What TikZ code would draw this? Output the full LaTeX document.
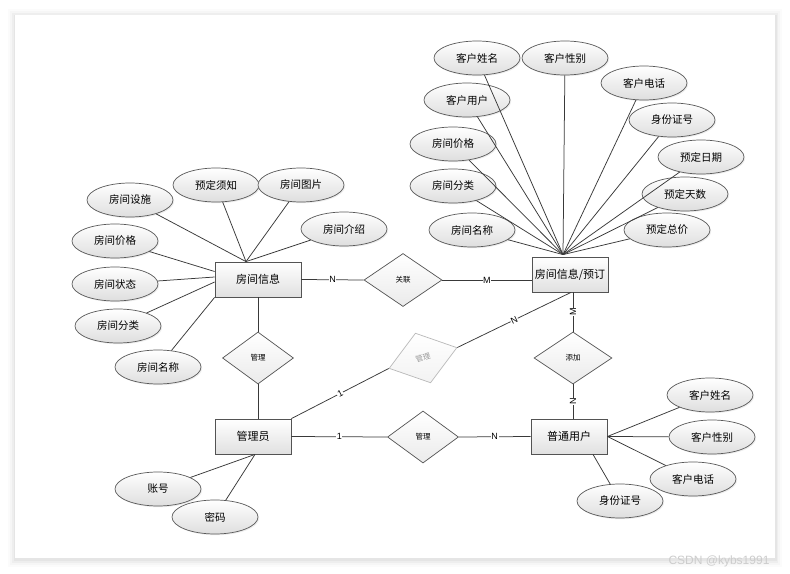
\documentclass[tikz,border=0pt]{standalone}
\usepackage{fontspec}
\newfontfamily\cjk{Noto Sans CJK SC}
\newfontfamily\lat{Liberation Sans}
\usetikzlibrary{shapes.geometric,shadows}
\tikzset{
 attr/.style={ellipse, draw=gray!70!black, line width=0.7bp, top color=white, bottom color=gray!26,
   minimum width=86bp, minimum height=34bp, inner sep=0pt, font=\cjk\fontsize{10.5bp}{12bp}\selectfont,
   drop shadow={opacity=0.14,shadow xshift=1.2bp,shadow yshift=-1.2bp}},
 ent/.style={rectangle, draw=gray!65!black, line width=0.8bp, top color=white, bottom color=gray!24,
   minimum width=76bp, minimum height=35bp, inner sep=0pt, font=\cjk\fontsize{11bp}{13bp}\selectfont,
   drop shadow={opacity=0.14,shadow xshift=1.2bp,shadow yshift=-1.2bp}},
 rel/.style={diamond, draw=gray!65!black, line width=0.7bp, top color=white, bottom color=gray!16,
   minimum width=71bp, minimum height=52bp, inner sep=0pt, font=\cjk\fontsize{7.5bp}{9bp}\selectfont},
 faded/.style={rel, draw=gray!55, text=gray!80, top color=white, bottom color=gray!10},
 conn/.style={draw=gray!45!black, line width=0.75bp},
 card/.style={fill=white, inner sep=0.6bp, font=\lat\fontsize{9bp}{10bp}\selectfont},
}
\begin{document}
\begin{tikzpicture}[x=1bp,y=-1bp]
\useasboundingbox (0,0) rectangle (790,574);
% page with soft shadow
\foreach \i/\o in {7/0.015,5/0.02,3/0.03,1.5/0.04}
  \fill[black,opacity=\o] (15-\i,15-\i+1.5) rectangle (775+\i,558+\i+1.5);
\fill[white] (15,15) rectangle (775,558);

% entities and relations
\node[ent, minimum width=86bp] (e) at (258,279.5) {房间信息};
\node[rel, minimum width=78bp, minimum height=53bp] (g) at (403,280) {关联};
\node[ent] (r) at (570,274.5) {房间信息/预订};
\node[rel] (d1) at (258,358) {管理};
\node[ent] (m) at (253,436.5) {管理员};
\node[faded, rotate=17] (fd) at (423,358) {管理};
\node[rel] (d3) at (423,437) {管理};
\node[ent] (u) at (569,436.5) {普通用户};
\node[rel, minimum width=78bp] (d2) at (573,358) {添加};

% attributes of 房间信息
\node[attr] (a1) at (130,200) {房间设施};
\node[attr] (a2) at (216,185) {预定须知};
\node[attr] (a3) at (301,185) {房间图片};
\node[attr] (a4) at (344,229) {房间介绍};
\node[attr] (a5) at (115,241) {房间价格};
\node[attr] (a6) at (115,284) {房间状态};
\node[attr] (a7) at (118,326) {房间分类};
\node[attr] (a8) at (158,367) {房间名称};

% attributes of 房间信息/预订
\node[attr] (b1) at (477,58) {客户姓名};
\node[attr] (b2) at (565,58) {客户性别};
\node[attr] (b3) at (644,83) {客户电话};
\node[attr] (b4) at (672,120) {身份证号};
\node[attr] (b5) at (701,157) {预定日期};
\node[attr] (b6) at (685,194) {预定天数};
\node[attr] (b7) at (667,230) {预定总价};
\node[attr] (b8) at (467,100) {客户用户};
\node[attr] (b9) at (453,144) {房间价格};
\node[attr] (b10) at (453,186) {房间分类};
\node[attr] (b11) at (472,230) {房间名称};

% attributes of 管理员
\node[attr] (c1) at (158,489) {账号};
\node[attr] (c2) at (215,517) {密码};

% attributes of 普通用户
\node[attr] (u1) at (710,395) {客户姓名};
\node[attr] (u2) at (712,437) {客户性别};
\node[attr] (u3) at (693,479) {客户电话};
\node[attr] (u4) at (620,501) {身份证号};

% convergence points
\coordinate (et) at ([xshift=-12bp]e.north);
\coordinate (rc) at ([xshift=-7bp,yshift=2bp]r.north);
\coordinate (rb) at ([xshift=1bp]r.south);
\coordinate (mb) at ([xshift=2bp]m.south);
\coordinate (ub) at ([xshift=24bp]u.south);

% attribute connectors
\foreach \n in {a1,a2,a3,a4} \draw[conn] (\n) -- (et);
\draw[conn] (a5) -- ([yshift=8bp]e.west);
\draw[conn] (a6) -- ([yshift=2.5bp]e.west);
\draw[conn] (a7) -- ([yshift=-2.5bp]e.west);
\draw[conn] (a8) -- (e.south west);
\foreach \n in {b1,b2,b3,b4,b5,b6,b7,b8,b9,b10,b11} \draw[conn] (\n) -- (rc);
\draw[conn] (c1) -- (mb);
\draw[conn] (c2) -- (mb);
\foreach \n in {u1,u2,u3} \draw[conn] (\n) -- (u.east);
\draw[conn] (u4) -- (ub);

% relationship connectors
\draw[conn] (e.east) -- node[card]{N} (g.west);
\draw[conn] (g.east) -- node[card]{M} (g.east -| r.west);
\draw[conn] (e.south) -- (d1.north);
\draw[conn] (d1.south) -- (d1.south |- m.north);
\draw[conn] (m.north east) -- node[card,sloped]{1} (fd.west);
\draw[conn] (fd.east) -- node[card,sloped]{N} (rb);
\draw[conn] (m.east) -- node[card]{1} (d3.west);
\draw[conn] (d3.east) -- node[card]{N} (u.west);
\draw[conn] (r.south -| d2.north) -- node[card,rotate=90]{M} (d2.north);
\draw[conn] (d2.south) -- node[card,rotate=90]{N} (d2.south |- u.north);

% watermark
\node[font=\lat\fontsize{12bp}{14bp}\selectfont, text=gray!40] (wm) at (719,561) {CSDN @kybs1991};
\end{tikzpicture}
\end{document}
